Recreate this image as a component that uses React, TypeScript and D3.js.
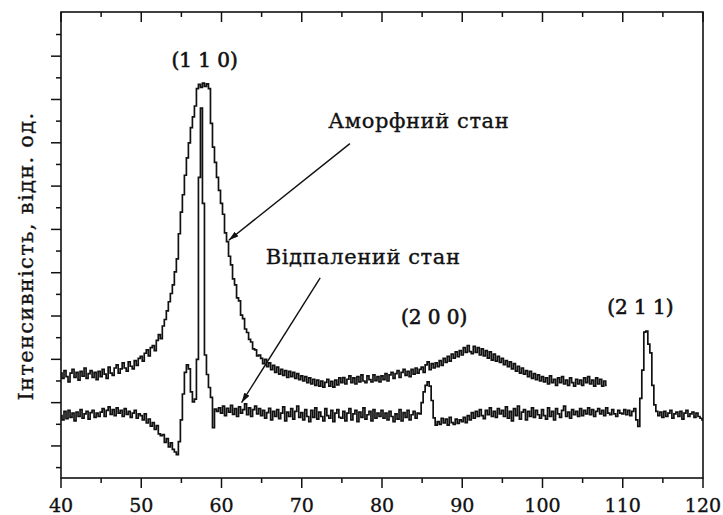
import React from "react";
import * as d3 from "d3";

// 2θ grid: step 0.25°
const X_START = 40;
const X_STEP = 0.25;

// Amorphous state (Аморфний стан), 40° .. 108°
const amorphous: number[] = [
  168,156,174,160,148,168,177,158,170,152,172,161,180,156,167,174,158,170,153,172,
  160,177,166,156,182,168,163,180,187,168,178,192,180,173,194,184,178,197,186,202,
  207,196,214,222,208,227,232,220,244,257,248,277,292,312,333,352,372,402,432,490,
  540,580,625,665,700,735,760,785,825,835,828,838,830,836,825,745,690,655,620,590,
  560,535,492,472,438,418,386,372,342,335,302,294,270,262,246,240,224,222,208,210,
  202,190,200,183,192,176,186,170,182,166,177,163,174,158,172,160,170,156,167,153,
  162,150,160,146,157,143,154,140,152,138,150,136,147,154,138,149,136,152,141,157,
  146,158,143,154,162,146,157,143,160,148,164,150,146,162,153,148,164,151,160,148,
  162,153,167,150,164,170,156,167,174,158,170,177,163,172,160,177,166,180,168,177,
  182,170,187,194,176,190,180,192,183,197,186,202,193,207,196,212,203,217,206,220,
  210,227,216,232,218,213,230,216,227,210,224,208,220,203,217,198,212,196,207,193,
  202,188,197,183,194,178,190,173,184,168,180,166,174,160,172,156,167,153,164,150,
  160,148,157,143,162,146,154,140,157,146,160,143,152,140,157,146,138,154,143,152,
  140,157,146,160,143,152,138,157,143,154,138,150,140,
];

// Annealed state (Відпалений стан), 40° .. 120°
const annealed: number[] = [
  70,60,80,63,82,66,76,58,78,68,84,64,74,80,62,77,82,66,76,68,
  78,86,68,82,90,73,84,70,88,76,82,68,86,73,80,66,76,82,64,74,
  70,60,74,53,62,46,54,38,47,28,24,26,8,17,-2,7,-8,-14,-20,10,
  60,120,170,187,178,125,102,108,200,620,780,560,210,165,135,112,42,85,80,88,
  76,92,70,87,78,94,73,86,68,90,76,84,97,72,88,68,84,92,74,86,
  70,82,64,77,87,60,80,68,84,63,76,90,58,78,68,86,62,80,92,66,
  77,60,84,68,56,82,66,88,62,78,68,58,86,70,64,82,56,76,84,66,
  64,80,58,76,86,60,74,82,56,78,66,88,62,72,80,58,84,64,76,68,
  82,64,76,60,80,68,56,74,62,84,58,77,66,82,60,72,80,64,76,74,
  100,125,140,148,138,105,65,48,56,50,64,53,62,48,66,54,50,62,52,60,
  56,66,54,70,60,77,64,80,68,84,70,63,82,72,88,68,80,66,86,74,
  82,68,90,64,80,58,86,70,92,62,78,84,60,80,68,88,66,82,72,64,
  84,70,62,88,68,80,60,86,74,66,82,92,68,78,64,84,72,80,68,86,
  70,82,74,88,72,84,68,80,86,74,82,70,88,76,72,84,74,68,82,76,
  74,84,72,82,70,80,86,60,45,110,175,263,265,235,215,140,95,80,70,78,
  66,80,68,76,82,64,74,78,68,80,62,76,82,68,74,78,66,76,68,64,
  60,
];

const xMajorTicks = [40, 50, 60, 70, 80, 90, 100, 110, 120];
const xMinorTicks = [45, 55, 65, 75, 85, 95, 105, 115];
const yMajorTicks = [0, 100, 200, 300, 400, 500, 600, 700, 800, 900];
const yMinorTicks = [-50, 50, 150, 250, 350, 450, 550, 650, 750, 850, 950];

const yLabel = "Інтенсивність, відн. од.";
const peakLabels = [
  { text: "(1 1 0)", x: 57.9, y: 875 },
  { text: "(2 0 0)", x: 86.5, y: 282 },
  { text: "(2 1 1)", x: 112.2, y: 305 },
];
const stateLabels = [
  { text: "Аморфний стан", x: 73.3, y: 735, ax0: 76.0, ay0: 698, ax1: 60.9, ay1: 475 },
  { text: "Відпалений стан", x: 65.5, y: 420, ax0: 72.3, ay0: 388, ax1: 62.5, ay1: 100 },
];

const W = 723;
const H = 515;
const FONT = "'DejaVu Serif', 'Liberation Serif', serif";
const INK = "#111";

export default function App() {
  const x = d3.scaleLinear().domain([40, 120]).range([61, 703]);
  const y = d3.scaleLinear().domain([-74, 1002]).range([478, 12]);

  const line = d3
    .line<number>()
    .x((_, i) => x(X_START + i * X_STEP))
    .y((d) => y(d))
    .curve(d3.curveStep);

  const left = x.range()[0];
  const right = x.range()[1];
  const bottom = y.range()[0];
  const top = y.range()[1];

  const textStyle = {
    fontFamily: FONT,
    fill: INK,
    stroke: INK,
    strokeWidth: 0.35,
  } as const;

  return (
    <svg
      width={W}
      height={H}
      viewBox={`0 0 ${W} ${H}`}
      style={{ position: "absolute", left: 0, top: 0, background: "#fff" }}
    >
      <defs>
        <marker
          id="ah"
          viewBox="0 0 10 6"
          refX="10"
          refY="3"
          markerWidth="10"
          markerHeight="6"
          markerUnits="userSpaceOnUse"
          orient="auto"
        >
          <path d="M0,0 L10,3 L0,6 Z" fill={INK} />
        </marker>
      </defs>

      {/* data */}
      <path d={line(amorphous) ?? ""} fill="none" stroke={INK} strokeWidth={1.7} />
      <path d={line(annealed) ?? ""} fill="none" stroke={INK} strokeWidth={1.7} />

      {/* frame */}
      <rect
        x={left}
        y={top}
        width={right - left}
        height={bottom - top}
        fill="none"
        stroke={INK}
        strokeWidth={1.6}
      />

      {/* x ticks bottom (outward) and top (inward) */}
      {xMajorTicks.map((t) => (
        <g key={"xM" + t}>
          <line x1={x(t)} x2={x(t)} y1={bottom} y2={bottom + 10} stroke={INK} strokeWidth={1.5} />
          <line x1={x(t)} x2={x(t)} y1={top} y2={top + 10} stroke={INK} strokeWidth={1.5} />
          <text x={x(t)} y={bottom + 34} textAnchor="middle" fontSize={19} {...textStyle}>
            {t}
          </text>
        </g>
      ))}
      {xMinorTicks.map((t) => (
        <g key={"xm" + t}>
          <line x1={x(t)} x2={x(t)} y1={bottom} y2={bottom + 5} stroke={INK} strokeWidth={1.5} />
          <line x1={x(t)} x2={x(t)} y1={top} y2={top + 5} stroke={INK} strokeWidth={1.5} />
        </g>
      ))}

      {/* y ticks */}
      {yMajorTicks.map((t) => (
        <line key={"yM" + t} x1={left - 10} x2={left} y1={y(t)} y2={y(t)} stroke={INK} strokeWidth={1.5} />
      ))}
      {yMinorTicks.map((t) => (
        <line key={"ym" + t} x1={left - 5} x2={left} y1={y(t)} y2={y(t)} stroke={INK} strokeWidth={1.5} />
      ))}

      {/* y label */}
      <text
        transform={`translate(33, 256) rotate(-90)`}
        textAnchor="middle"
        fontSize={21}
        letterSpacing={1.3}
        {...textStyle}
      >
        {yLabel}
      </text>

      {/* peak labels */}
      {peakLabels.map((p) => (
        <text key={p.text} x={x(p.x)} y={y(p.y)} textAnchor="middle" fontSize={20} {...textStyle} strokeWidth={0.6}>
          {p.text}
        </text>
      ))}

      {/* state labels with arrows */}
      {stateLabels.map((s) => (
        <g key={s.text}>
          <text x={x(s.x)} y={y(s.y)} fontSize={21} letterSpacing={0.6} {...textStyle}>
            {s.text}
          </text>
          <line
            x1={x(s.ax0)}
            y1={y(s.ay0)}
            x2={x(s.ax1)}
            y2={y(s.ay1)}
            stroke={INK}
            strokeWidth={1.4}
            markerEnd="url(#ah)"
          />
        </g>
      ))}
    </svg>
  );
}
